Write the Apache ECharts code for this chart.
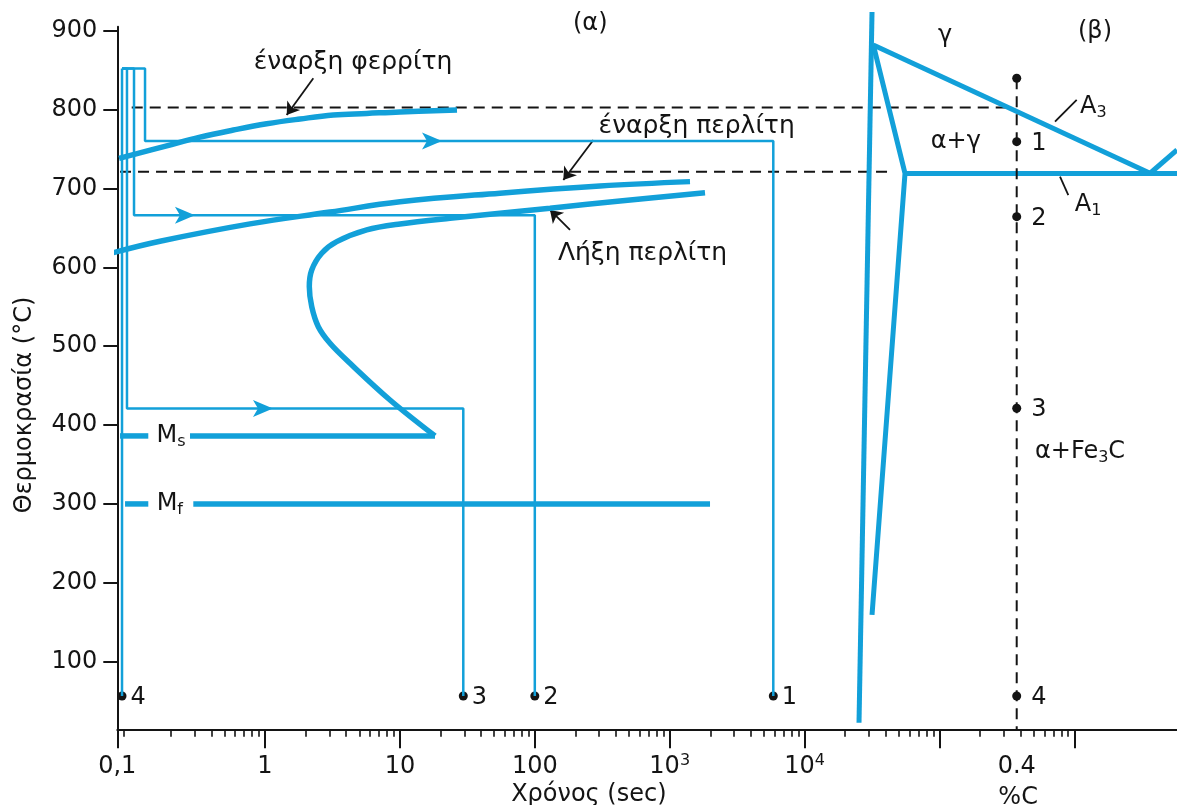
<!DOCTYPE html>
<html>
<head>
<meta charset="utf-8">
<script src="https://cdn.jsdelivr.net/npm/echarts@6/dist/echarts.min.js"></script>
<style>html,body{margin:0;padding:0;background:#fff;overflow:hidden}#c{width:1177px;height:805px}</style>
</head>
<body>
<div id="c"></div>
<script>
// ---------------- data ----------------
// tick values / labels
const tempTicks = [100, 200, 300, 400, 500, 600, 700, 800, 900];
const timeTicks = [0.08036, 1, 10, 100, 1000, 10000, 100000, 1000000];
const timeTickLabels = ['{b|0,1}', '{b|1}', '{b|10}', '{b|100}', '{b|10}{p|3}', '{b|10}{p|4}', '', ''];
const carbonTicks = [0.4];
const carbonTickLabels = ['0.4'];

// (α) TTT diagram: [time (s), temperature (°C)]
const ferriteStart = [[0.0828,738],[0.1867,754],[0.3298,765],[0.5821,774],[1.029,782],[1.817,788],[3.209,793],[5.675,795],[10.02,797],[26.5,799.5]];
const pearliteStart = [[0.0731,618],[0.1666,633],[0.7742,655],[3.033,670],[10.02,683],[55.2,694],[304,703],[1414,708.6]];
const pearliteFinish = [[1827,694.6],[428,684.1],[129.6,674.9],[23.5,662.2],[10.02,655],[5.675,647.4],[3.401,632.5],[2.633,617.8],[2.22,596.6],[2.13,575.5],[2.22,550.1],[2.484,524.7],[3.033,503.7],[4.267,478.3],[8.445,431.8],[18.2,386.2]];
const msLine = [[0.278,386.2],[18.2,386.2]];
const msStub = [[0.0842,386.2],[0.1364,386.2]];
const mfLine = [[0.2941,300],[1990,300]];
const mfStub = [[0.0917,300],[0.1364,300]];
const path1 = [[0.0871,852],[0.129,852],[0.129,760],[5860,760],[5860,56.5]];
const path2 = [[0.0871,852],[0.1069,852],[0.1069,666],[100,666],[100,56.5]];
const path3 = [[0.0871,852],[0.0948,852],[0.0948,421],[29.5,421],[29.5,56.5]];
const path4 = [[0.0871,852],[0.0871,56.5]];
const pathArrows = [[17.3,760],[0.255,666],[0.966,421]];
const pathDots = [[0.0871,56.5,'4'],[29.5,56.5,'3'],[100,56.5,'2'],[5860,56.5,'1']];
const dashed800 = [[0.1028,802.5],[314900,802.5]];
const dashed720 = [[0.0842,721],[44230,721]];
const tttNotes = [['έναρξη φερρίτη',4.49,860],['έναρξη περλίτη',1585,778],['Λήξη περλίτη',628.7,618]];
const martensiteNotes = [['{m|M}{s|s}',0.201,386.2],['{m|M}{s|f}',0.197,300]];
const tttPointers = [[[2.281,839.7],[1.448,793.1]],[[271.5,761.4],[162.7,710.7]],[[182.4,647.4],[129.6,672.7]]];

// (β) Fe–C diagram: [%C, temperature (°C)]
const alphaSolvus = [[-0.0036,923.7],[-0.0399,22.7]];
const a3Line = [[0,881.9],[0.772,719.2]];
const ferriteBoundary = [[0,881.9],[0.0884,719],[-0.0036,159.3]];
const a1Line = [[0.0884,719],[0.8471,719]];
const acmLine = [[0.772,719.2],[0.8471,748.7]];
const compositionLine = [[0.4,839.7],[0.4,14.3]];
const compositionDots = [[0.4,839.7,''],[0.4,759.3,'1'],[0.4,664.2,'2'],[0.4,421.3,'3'],[0.4,56.5,'4']];
const phaseNotes = [['γ',0.2,893.3],['α+γ',0.2301,759.3],['A{s|3}',0.6137,803.7],['A{s|1}',0.5989,679],['α+Fe{s|3}C',0.5766,365.9]];
const phaseLeaders = [[[0.5673,812.1],[0.5068,784.6]],[[0.5208,714.9],[0.5439,691.6]]];

// ---------------- style ----------------
const FONT = 'DejaVu Sans';
const BLUE = '#12a0d9';
const INK = '#141414';
const rich = {
  m: {fontFamily: FONT, fontSize: 24, lineHeight: 28, color: INK},
  s: {fontFamily: FONT, fontSize: 16, lineHeight: 14, verticalAlign: 'bottom', color: INK}
};
const tickRich = {
  b: {fontFamily: FONT, fontSize: 24, lineHeight: 26, color: INK},
  p: {fontFamily: FONT, fontSize: 16, lineHeight: 14, verticalAlign: 'top', color: INK}
};

const fmtTime = v => {
  for (let i = 0; i < timeTicks.length; i++) {
    if (Math.abs(Math.log10(v) - Math.log10(timeTicks[i])) < 1e-4) return timeTickLabels[i];
  }
  return '';
};
const fmtCarbon = v => {
  for (let i = 0; i < carbonTicks.length; i++) {
    if (Math.abs(v - carbonTicks[i]) < 1e-6) return carbonTickLabels[i];
  }
  return '';
};

function blueLine(data, width, ax, extra) {
  return Object.assign({
    type: 'line', xAxisIndex: ax, yAxisIndex: ax, data: data, symbol: 'none',
    clip: false, silent: true, animation: false,
    lineStyle: {color: BLUE, width: width}
  }, extra || {});
}
function dashLine(data, ax) {
  return {
    type: 'line', xAxisIndex: ax, yAxisIndex: ax, data: data, symbol: 'none',
    clip: false, silent: true,
    lineStyle: {color: INK, width: 2, type: [11, 7]}
  };
}
function textSeries(items, ax, size) {
  return {
    type: 'scatter', xAxisIndex: ax, yAxisIndex: ax, clip: false, silent: true,
    symbolSize: 1, itemStyle: {color: 'rgba(0,0,0,0)', opacity: 1},
    data: items.map(d => ({value: [d[1], d[2]], name: d[0]})),
    label: {show: true, position: 'inside', formatter: p => p.name, opacity: 1,
      fontFamily: FONT, fontSize: size, lineHeight: 28, color: INK, rich: rich}
  };
}
function dotSeries(items, ax, dist) {
  return {
    type: 'scatter', xAxisIndex: ax, yAxisIndex: ax, clip: false, silent: true,
    symbol: 'circle', symbolSize: 9, itemStyle: {color: INK, opacity: 1},
    data: items.map(d => ({value: [d[0], d[1]], name: d[2]})),
    label: {show: true, position: 'right', distance: dist, offset: [0, 2], formatter: p => p.name,
      fontFamily: FONT, fontSize: 24, color: INK, opacity: 1}
  };
}
function pointerSeries(items, ax, arrow) {
  return {
    type: 'lines', coordinateSystem: 'cartesian2d', xAxisIndex: ax, yAxisIndex: ax,
    silent: true, symbol: arrow ? ['none', 'arrow'] : ['none', 'none'], symbolSize: 12,
    lineStyle: {color: INK, width: 1.8, opacity: 1, curveness: 0},
    data: items.map(c => ({coords: c}))
  };
}

const chart = echarts.init(document.getElementById('c'), null, {renderer: 'canvas'});
chart.setOption({
  animation: false,
  backgroundColor: '#fff',
  textStyle: {fontFamily: FONT},
  title: [
    {text: '(α)', left: 573, top: 12, padding: 0, textStyle: {fontFamily: FONT, fontSize: 24, fontWeight: 'normal', color: INK}},
    {text: '(β)', left: 1078, top: 20, padding: 0, textStyle: {fontFamily: FONT, fontSize: 24, fontWeight: 'normal', color: INK}}
  ],
  grid: [
    {left: 117.3, top: 26.7, width: 957.1, height: 702.6, containLabel: false, outerBoundsMode: 'none'},
    {left: 843.3, top: 26.7, width: 333.7, height: 702.6, containLabel: false, outerBoundsMode: 'none'}
  ],
  xAxis: [
    {
      type: 'log', gridIndex: 0, logBase: 10, min: timeTicks[0], max: 1000000,
      axisLine: {show: true, onZero: false, lineStyle: {color: INK, width: 2}},
      axisTick: {show: true, length: 19, customValues: timeTicks, lineStyle: {color: INK, width: 2}},
      minorTick: {show: true, splitNumber: 9, length: 7.5, lineStyle: {color: INK, width: 1.6}},
      axisLabel: {customValues: timeTicks, margin: 24, fontFamily: FONT, fontSize: 24, color: INK, formatter: fmtTime, rich: tickRich},
      splitLine: {show: false}, minorSplitLine: {show: false},
      name: 'Χρόνος (sec)', nameLocation: 'middle', nameGap: 46,
      nameTextStyle: {fontFamily: FONT, fontSize: 24, color: INK, padding: [0, 14, 0, 0]}
    },
    {
      type: 'value', gridIndex: 1, min: -0.0837, max: 0.8471,
      axisLine: {show: true, onZero: false, lineStyle: {color: INK, width: 2}},
      axisTick: {show: false},
      axisLabel: {customValues: carbonTicks, margin: 25, fontFamily: FONT, fontSize: 24, color: INK, formatter: fmtCarbon},
      splitLine: {show: false},
      name: '%C', nameLocation: 'middle', nameGap: 56,
      nameTextStyle: {fontFamily: FONT, fontSize: 24, color: INK, padding: [0, 0, 0, 16]}
    }
  ],
  yAxis: [
    {
      type: 'value', gridIndex: 0, min: 14.3, max: 905,
      axisLine: {show: true, onZero: false, lineStyle: {color: INK, width: 2}},
      axisTick: {show: true, length: 14, customValues: tempTicks, lineStyle: {color: INK, width: 2}},
      axisLabel: {customValues: tempTicks, margin: 20, fontFamily: FONT, fontSize: 24, color: INK},
      splitLine: {show: false},
      name: 'Θερμοκρασία (°C)', nameLocation: 'middle', nameGap: 81, nameRotate: 90,
      nameTextStyle: {fontFamily: FONT, fontSize: 24, color: INK, padding: [0, 54, 0, 0]}
    },
    {type: 'value', gridIndex: 1, min: 14.3, max: 905, show: false}
  ],
  series: [
    dashLine(dashed800, 0),
    dashLine(dashed720, 0),
    blueLine(path1, 2.5, 0),
    blueLine(path2, 2.5, 0),
    blueLine(path3, 2.5, 0),
    blueLine(path4, 2.5, 0),
    blueLine(ferriteStart, 5.5, 0, {smooth: 0.4}),
    blueLine(pearliteStart, 5.5, 0, {smooth: 0.4}),
    blueLine(pearliteFinish, 5.5, 0, {smooth: 0.35}),
    blueLine(msLine, 5.5, 0),
    blueLine(msStub, 5.5, 0),
    blueLine(mfLine, 5.5, 0),
    blueLine(mfStub, 5.5, 0),
    {
      type: 'scatter', xAxisIndex: 0, yAxisIndex: 0, silent: true, clip: false,
      symbol: 'path://M0,0L20,9L0,18L5,9Z', symbolSize: [20, 17],
      itemStyle: {color: BLUE, opacity: 1}, data: pathArrows
    },
    dotSeries(pathDots, 0, 4),
    textSeries(tttNotes, 0, 25),
    textSeries(martensiteNotes, 0, 24),
    pointerSeries(tttPointers, 0, true),
    blueLine(alphaSolvus, 5, 1),
    blueLine(a3Line, 5, 1),
    blueLine(ferriteBoundary, 5, 1),
    blueLine(a1Line, 5, 1),
    blueLine(acmLine, 5, 1),
    dashLine(compositionLine, 1),
    dotSeries(compositionDots, 1, 10),
    textSeries(phaseNotes, 1, 24),
    pointerSeries(phaseLeaders, 1, false)
  ]
});
</script>
</body>
</html>
